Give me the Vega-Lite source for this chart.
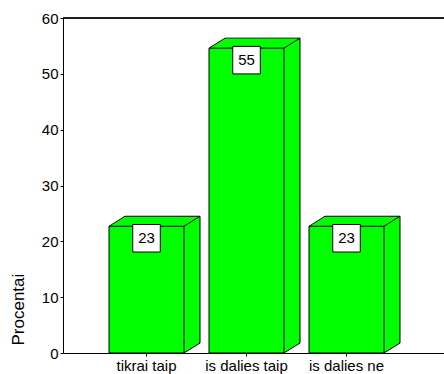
{
  "$schema": "https://vega.github.io/schema/vega-lite/v6.json",
  "autosize": "none",
  "width": 381,
  "height": 335,
  "padding": {"left": 63, "top": 18, "right": 0, "bottom": 21},
  "background": "white",
  "data": {"values": [
    {"cat": "tikrai taip", "pct": 22.7},
    {"cat": "is dalies taip", "pct": 54.6},
    {"cat": "is dalies ne", "pct": 22.7}
  ]},
  "config": {
    "view": {"stroke": null},
    "font": "Liberation Sans",
    "axis": {
      "domainColor": "black", "domainWidth": 1,
      "tickColor": "black", "tickSize": 3, "tickWidth": 1,
      "labelColor": "black", "labelFont": "Liberation Sans", "labelFontSize": 15,
      "labelPadding": 2, "grid": false,
      "titleColor": "black", "titleFont": "Liberation Sans", "titleFontWeight": "normal"
    }
  },
  "encoding": {
    "x": {"field": "cat", "type": "nominal", "sort": null, "title": null,
      "scale": {"paddingInner": 0.25, "paddingOuter": 0.53, "align": 0.434},
      "axis": {"labelAngle": 0}},
    "y": {"field": "pct", "type": "quantitative", "title": "Procentai",
      "scale": {"domain": [0, 60], "nice": false},
      "axis": {"values": [0, 10, 20, 30, 40, 50, 60], "titleFontSize": 17,
        "titleAnchor": "start", "titleAlign": "left", "titleAngle": 270,
        "titleBaseline": "alphabetic", "titleX": -40, "titleY": 327}}
  },
  "layer": [
    {"mark": {"type": "rule", "color": "black", "strokeWidth": 1}, "encoding": {"y": {"datum": 60, "title": "Procentai"}, "x": null}},
    {"mark": {"type": "bar", "fill": "#00FF00", "stroke": "black", "strokeWidth": 1, "xOffset": 16, "yOffset": -10, "y2Offset": -10}},
    {"mark": {"type": "bar", "fill": "#00FF00", "xOffset": 15, "yOffset": -9.375, "y2Offset": -9.375}},
    {"mark": {"type": "bar", "fill": "#00FF00", "xOffset": 14, "yOffset": -8.75, "y2Offset": -8.75}},
    {"mark": {"type": "bar", "fill": "#00FF00", "xOffset": 13, "yOffset": -8.125, "y2Offset": -8.125}},
    {"mark": {"type": "bar", "fill": "#00FF00", "xOffset": 12, "yOffset": -7.5, "y2Offset": -7.5}},
    {"mark": {"type": "bar", "fill": "#00FF00", "xOffset": 11, "yOffset": -6.875, "y2Offset": -6.875}},
    {"mark": {"type": "bar", "fill": "#00FF00", "xOffset": 10, "yOffset": -6.25, "y2Offset": -6.25}},
    {"mark": {"type": "bar", "fill": "#00FF00", "xOffset": 9, "yOffset": -5.625, "y2Offset": -5.625}},
    {"mark": {"type": "bar", "fill": "#00FF00", "xOffset": 8, "yOffset": -5, "y2Offset": -5}},
    {"mark": {"type": "bar", "fill": "#00FF00", "xOffset": 7, "yOffset": -4.375, "y2Offset": -4.375}},
    {"mark": {"type": "bar", "fill": "#00FF00", "xOffset": 6, "yOffset": -3.75, "y2Offset": -3.75}},
    {"mark": {"type": "bar", "fill": "#00FF00", "xOffset": 5, "yOffset": -3.125, "y2Offset": -3.125}},
    {"mark": {"type": "bar", "fill": "#00FF00", "xOffset": 4, "yOffset": -2.5, "y2Offset": -2.5}},
    {"mark": {"type": "bar", "fill": "#00FF00", "xOffset": 3, "yOffset": -1.875, "y2Offset": -1.875}},
    {"mark": {"type": "bar", "fill": "#00FF00", "xOffset": 2, "yOffset": -1.25, "y2Offset": -1.25}},
    {"mark": {"type": "bar", "fill": "#00FF00", "xOffset": 1, "yOffset": -0.625, "y2Offset": -0.625}},
    {"mark": {"type": "bar", "fill": "#00FF00", "stroke": "black", "strokeWidth": 1}},
    {"mark": {"type": "rule", "color": "black", "strokeWidth": 1, "x2Offset": 16, "y2Offset": -10},
     "encoding": {
       "x": {"field": "cat", "type": "nominal", "sort": null, "bandPosition": 0, "title": null},
       "x2": {"field": "cat", "bandPosition": 0},
       "y": {"field": "pct", "type": "quantitative", "title": "Procentai"},
       "y2": {"field": "pct"}}},
    {"mark": {"type": "rule", "color": "black", "strokeWidth": 1, "x2Offset": 16, "y2Offset": -10},
     "encoding": {
       "x": {"field": "cat", "type": "nominal", "sort": null, "bandPosition": 1, "title": null},
       "x2": {"field": "cat", "bandPosition": 1},
       "y": {"field": "pct", "type": "quantitative", "title": "Procentai"},
       "y2": {"field": "pct"}}},
    {"mark": {"type": "rule", "color": "black", "strokeWidth": 1, "x2Offset": 16, "y2Offset": -10},
     "encoding": {
       "x": {"field": "cat", "type": "nominal", "sort": null, "bandPosition": 1, "title": null},
       "x2": {"field": "cat", "bandPosition": 1},
       "y": {"datum": 0, "type": "quantitative", "title": "Procentai"},
       "y2": {"datum": 0}}},
    {"mark": {"type": "point", "shape": "square", "size": 760, "filled": true, "fill": "white", "stroke": "black", "strokeWidth": 1, "opacity": 1, "yOffset": 12}},
    {"mark": {"type": "text", "fontSize": 15, "color": "black", "baseline": "middle", "align": "center", "yOffset": 12, "font": "Liberation Sans"},
     "encoding": {"text": {"field": "pct", "type": "quantitative", "format": ".0f"}}}
  ]
}
